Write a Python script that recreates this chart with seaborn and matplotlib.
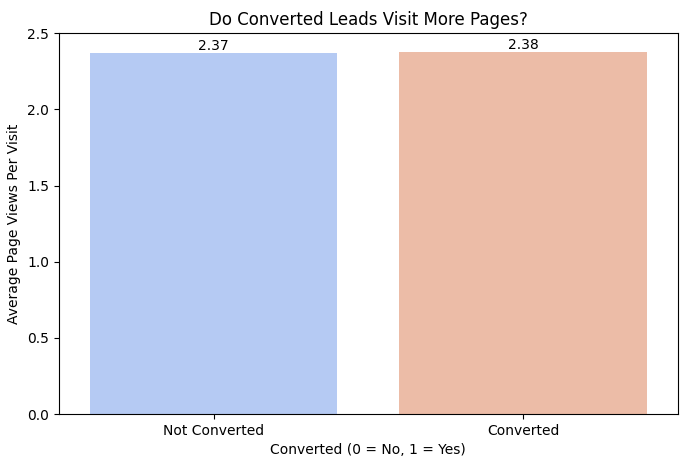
import pandas as pd
import matplotlib
matplotlib.use("Agg")
import matplotlib.pyplot as plt
import seaborn as sns

# Average page views per visit by conversion status
labels = ['Not Converted', 'Converted']
converted = [0, 1]
avg_page_views = [2.37, 2.38]

df = pd.DataFrame({'Converted': converted, 'Page Views Per Visit': avg_page_views})

fig = plt.figure(figsize=(6.91, 4.68), dpi=100)
ax = fig.add_axes([0.085, 0.115, 0.896, 0.814])
sns.barplot(data=df, x='Converted', y='Page Views Per Visit', hue='Converted',
            palette='coolwarm', legend=False, ax=ax)

for container in ax.containers:
    ax.bar_label(container, fmt='%.2f')

ax.set_xticks([0, 1])
ax.set_xticklabels(labels)
ax.set_ylim(0, 2.5)
ax.set_title('Do Converted Leads Visit More Pages?')
ax.set_xlabel('Converted (0 = No, 1 = Yes)')
ax.set_ylabel('Average Page Views Per Visit')

plt.savefig('out.png', dpi=100)
